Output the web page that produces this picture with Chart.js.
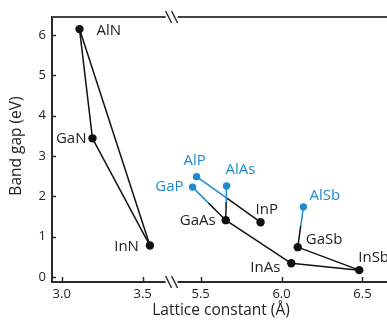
<!DOCTYPE html>
<html>
<head>
<meta charset="utf-8">
<script src="https://cdn.jsdelivr.net/npm/chart.js@4/dist/chart.umd.min.js"></script>
<style>
  html, body { margin: 0; padding: 0; background: #fff; }
  #wrap { width: 387px; height: 324px; }
</style>
</head>
<body>
<div id="wrap"><canvas id="chart"></canvas></div>
<script>
'use strict';

// ── Data ──────────────────────────────────────────────────────
const compounds    = ['AlN', 'GaN', 'InN', 'AlP', 'GaP', 'AlAs', 'GaAs', 'InP', 'AlSb', 'GaSb', 'InAs', 'InSb'];
const latticeConst = [3.11, 3.19, 3.545, 5.475, 5.45, 5.66, 5.655, 5.87, 6.135, 6.10, 6.06, 6.48];
const bandGap      = [6.15, 3.44, 0.78, 2.49, 2.23, 2.26, 1.41, 1.36, 1.74, 0.74, 0.34, 0.17];
const indirectGap  = ['AlP', 'GaP', 'AlAs', 'AlSb'];

const blackLinks = [['AlN', 'GaN'], ['GaN', 'InN'], ['AlN', 'InN'], ['GaAs', 'InAs'], ['InAs', 'InSb'], ['GaSb', 'InSb']];
const mixedLinks = [['AlP', 'InP'], ['GaP', 'GaAs'], ['AlAs', 'GaAs'], ['AlSb', 'GaSb']];

const xTickValues = [3.0, 3.5, 5.5, 6.0, 6.5];
const xTickLabels = ['3.0', '3.5', '5.5', '6.0', '6.5'];
const yTickValues = [0, 1, 2, 3, 4, 5, 6];

// ── Style ─────────────────────────────────────────────────────
const BLACK = '#111';
const BLUE = '#1e8bcd';
const AXIS = '#2a2a2a';
const FONT = '"Open Sans", "Noto Sans", sans-serif';

// broken x axis: right part shifted left
const BREAK_SHIFT = 1.6415;
const BREAK_AT = 3.679;
const toAxis = (a) => (a > 4.5 ? a - BREAK_SHIFT : a);

const LABEL_POS = {
  AlN:  { dx: 17,  dy: 2,   align: 'left' },
  GaN:  { dx: -6,  dy: 0,   align: 'right' },
  InN:  { dx: -11, dy: 1,   align: 'right' },
  AlP:  { dx: -2,  dy: -16, align: 'center' },
  GaP:  { dx: -9,  dy: 0,   align: 'right' },
  AlAs: { dx: -1,  dy: -16, align: 'left' },
  GaAs: { dx: -10, dy: 1,   align: 'right' },
  InP:  { dx: -5,  dy: -12, align: 'left' },
  AlSb: { dx: 6,   dy: -11, align: 'left' },
  GaSb: { dx: 8,   dy: -7,  align: 'left' },
  InAs: { dx: -11, dy: 4,   align: 'right' },
  InSb: { dx: -1,  dy: -12, align: 'left' },
};

// ── Helpers ───────────────────────────────────────────────────
const pt = (name) => {
  const i = compounds.indexOf(name);
  return { x: toAxis(latticeConst[i]), y: bandGap[i] };
};

function splitColor(ctx) {
  const g = ctx.chart.ctx.createLinearGradient(ctx.p0.x, ctx.p0.y, ctx.p1.x, ctx.p1.y);
  g.addColorStop(0, BLUE);
  g.addColorStop(0.48, BLUE);
  g.addColorStop(0.48, BLACK);
  g.addColorStop(1, BLACK);
  return g;
}

const linkSets = [
  ...blackLinks.map(([a, b]) => ({
    type: 'line', data: [pt(a), pt(b)], borderColor: BLACK, borderWidth: 1.5,
    pointRadius: 0, fill: false,
  })),
  ...mixedLinks.map(([a, b]) => ({
    type: 'line', data: [pt(a), pt(b)], borderColor: BLACK, borderWidth: 1.5,
    pointRadius: 0, fill: false, segment: { borderColor: splitColor },
  })),
];

const pointSets = [
  {
    data: compounds.filter(c => !indirectGap.includes(c)).map(pt),
    backgroundColor: BLACK, borderColor: BLACK, pointRadius: 4.2, borderWidth: 0,
  },
  {
    data: compounds.filter(c => indirectGap.includes(c)).map(pt),
    backgroundColor: BLUE, borderColor: BLUE, pointRadius: 3.7, borderWidth: 0,
  },
];

// ── Frame, break marks, inward ticks, titles, labels ──────────
const framePlugin = {
  id: 'frame',
  beforeDatasetsDraw(chart) {
    const { ctx, chartArea: a, scales: { x, y } } = chart;
    const bx = x.getPixelForValue(BREAK_AT);
    ctx.save();
    ctx.strokeStyle = AXIS;
    ctx.lineWidth = 2;
    ctx.lineCap = 'butt';
    // left axis
    ctx.beginPath();
    ctx.moveTo(a.left, a.top - 1);
    ctx.lineTo(a.left, a.bottom + 1);
    ctx.stroke();
    // top & bottom lines with break gap
    [a.top, a.bottom].forEach((ly, k) => {
      ctx.strokeStyle = k === 0 ? '#444' : AXIS;
      ctx.beginPath();
      ctx.moveTo(a.left, ly); ctx.lineTo(bx - 6, ly);
      ctx.moveTo(bx + 6, ly); ctx.lineTo(chart.width, ly);
      ctx.stroke();
      ctx.lineWidth = 1.5;
      ctx.strokeStyle = AXIS;
      [-3, 3].forEach(o => {
        ctx.beginPath();
        ctx.moveTo(bx + o - 3, ly - 6);
        ctx.lineTo(bx + o + 3, ly + 6);
        ctx.stroke();
      });
      ctx.lineWidth = 2;
    });
    // inward ticks
    ctx.lineWidth = 1.5;
    ctx.strokeStyle = AXIS;
    yTickValues.forEach(v => {
      const py = Math.round(y.getPixelForValue(v)) + 0.5;
      ctx.beginPath(); ctx.moveTo(a.left, py); ctx.lineTo(a.left + 4, py); ctx.stroke();
    });
    xTickValues.forEach(v => {
      const px = Math.round(x.getPixelForValue(toAxis(v))) + 0.5;
      ctx.beginPath(); ctx.moveTo(px, a.bottom); ctx.lineTo(px, a.bottom - 5); ctx.stroke();
    });
    // axis titles
    ctx.fillStyle = '#222';
    ctx.font = `15.5px ${FONT}`;
    ctx.textAlign = 'center';
    ctx.textBaseline = 'middle';
    ctx.fillText('Lattice constant (Å)', 221, 311);
    ctx.translate(17, 146);
    ctx.rotate(-Math.PI / 2);
    ctx.fillText('Band gap (eV)', 0, 0);
    ctx.restore();
  },
  afterDatasetsDraw(chart) {
    const { ctx, scales: { x, y } } = chart;
    ctx.save();
    ctx.font = `15px ${FONT}`;
    ctx.textBaseline = 'middle';
    compounds.forEach((name, i) => {
      const p = LABEL_POS[name];
      const px = x.getPixelForValue(toAxis(latticeConst[i]));
      const py = y.getPixelForValue(bandGap[i]);
      ctx.fillStyle = indirectGap.includes(name) ? BLUE : '#222';
      ctx.textAlign = p.align;
      ctx.fillText(name, px + p.dx, py + p.dy);
    });
    ctx.restore();
  },
};

// ── Chart ─────────────────────────────────────────────────────
new Chart(document.getElementById('chart'), {
  type: 'scatter',
  data: { datasets: [...linkSets, ...pointSets] },
  plugins: [framePlugin],
  options: {
    responsive: true,
    maintainAspectRatio: false,
    animation: false,
    layout: { padding: { top: 17, right: 0, left: 0, bottom: 0 } },
    plugins: { legend: { display: false }, tooltip: { enabled: false } },
    scales: {
      x: {
        type: 'linear',
        min: 2.94,
        max: 4.984,
        afterBuildTicks: (s) => { s.ticks = xTickValues.map(v => ({ value: toAxis(v) })); },
        afterFit: (s) => { s.height = 42; },
        ticks: {
          autoSkip: false, maxRotation: 0, padding: 4, color: '#222',
          font: { family: FONT, size: 13 },
          callback: (v, i) => xTickLabels[i],
        },
        grid: { display: false, drawTicks: false },
        border: { display: false },
      },
      y: {
        min: -0.124,
        max: 6.45,
        afterBuildTicks: (s) => { s.ticks = yTickValues.map(v => ({ value: v })); },
        afterFit: (s) => { s.width = 52; },
        ticks: {
          autoSkip: false, padding: 6, color: '#222',
          font: { family: FONT, size: 13 },
        },
        grid: { display: false, drawTicks: false },
        border: { display: false },
      },
    },
  },
});
</script>
</body>
</html>
